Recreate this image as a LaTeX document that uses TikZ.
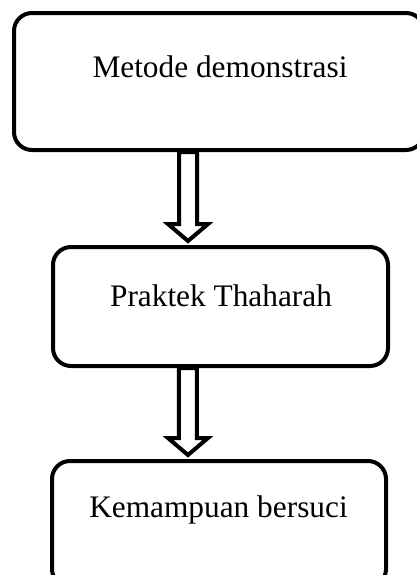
\documentclass[tikz,border=0pt]{standalone}
\usepackage{fontspec}
\setmainfont{Liberation Serif}
\usetikzlibrary{calc}
\tikzset{
  stepbox/.style={draw, line width=3pt, rounded corners=13.5pt, inner sep=0pt},
  steptext/.style={anchor=base, inner sep=0pt, font=\fontsize{23.5}{28}\selectfont},
  hollow/.style={draw, line width=3pt, line join=miter}
}
\newcommand{\hollowarrow}[2]{%
  \path (#1) coordinate (s) (#2) coordinate (e);
  \draw[hollow] ($(s)+(-9,0)$) -- ($(s |- e)+(-9,-17)$) -- ($(s |- e)+(-20,-17)$)
    -- (s |- e) -- ($(s |- e)+(20,-17)$) -- ($(s |- e)+(9,-17)$) -- ($(s)+(9,0)$) -- cycle;
}
\begin{document}
\begin{tikzpicture}[x=0.75pt, y=-0.75pt]
  \useasboundingbox (0,0) rectangle (417,575);
  \node[stepbox, minimum width=307.5pt, minimum height=102.75pt] (meto) at (219,81.5) {};
  \node[stepbox, minimum width=251.25pt, minimum height=89.25pt] (prak) at (220.5,306.5) {};
  \node[stepbox, minimum width=250.5pt, minimum height=94.5pt] (kemam) at (219,524) {};
  \node[steptext] (meto-t) at (220,77) {Metode demonstrasi};
  \node[steptext] (prak-t) at (221,306) {Praktek Thaharah};
  \node[steptext] (kemam-t) at (218.5,517) {Kemampuan bersuci};
  \hollowarrow{[xshift=-23.25pt]meto.south}{[yshift=3pt]prak.north}
  \hollowarrow{[xshift=-24.4pt]prak.south}{[yshift=3pt]kemam.north}
\end{tikzpicture}
\end{document}
